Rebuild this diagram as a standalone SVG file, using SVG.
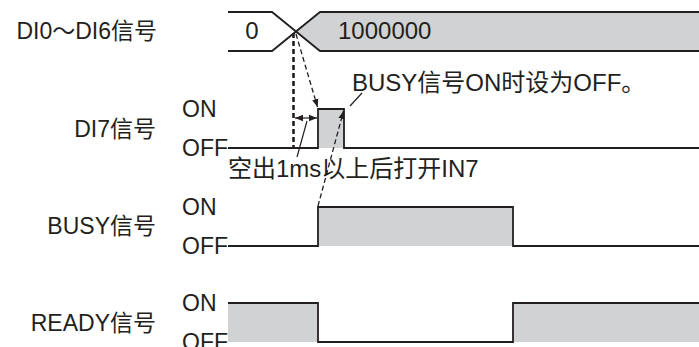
<svg xmlns="http://www.w3.org/2000/svg" width="699" height="347" viewBox="0 0 699 347">
<defs>
<style>
text{font-family:"Liberation Sans","Noto Sans CJK SC",sans-serif;font-size:23px;fill:#231f20}
.lbl{text-anchor:end}
.big{font-size:24px}
.sig{fill:none;stroke:#231f20;stroke-width:1.8}
.fill{fill:#d1d2d4;stroke:none}
.dash{fill:none;stroke:#231f20;stroke-width:1.3;stroke-dasharray:5 3}
.thick{fill:none;stroke:#231f20;stroke-width:2.6;stroke-dasharray:5 3}
.lead{fill:none;stroke:#231f20;stroke-width:1.2}
</style>
<marker id="ah" viewBox="0 0 10 10" refX="10" refY="5" markerWidth="8" markerHeight="8" markerUnits="userSpaceOnUse" orient="auto-start-reverse">
<path d="M0,1 L10,5 L0,9 Z" fill="#231f20"/>
</marker>
</defs>
<rect width="699" height="347" fill="#fff"/>

<g id="bus">
<path class="fill" d="M296,31.5 L320,12 L699,12 L699,51 L320,51 Z"/>
<path class="sig" d="M228,12 L272,12 L320,51 L699,51"/>
<path class="sig" d="M228,51 L272,51 L320,12 L699,12"/>
<text class="big" x="252" y="39" text-anchor="middle">0</text>
<text class="big" x="338" y="39">1000000</text>
<text class="lbl" x="157" y="39">DI0～DI6信号</text>
</g>

<g id="di7">
<rect class="fill" x="318" y="109" width="26" height="39"/>
<path class="sig" d="M228,148 L318,148 L318,109 L344,109 L344,148 L699,148"/>
<text class="lbl" x="156" y="137">DI7信号</text>
<text x="182" y="117">ON</text>
<text x="182" y="156">OFF</text>
</g>

<g id="busy">
<rect class="fill" x="318" y="207" width="195" height="39"/>
<path class="sig" d="M228,246 L318,246 L318,207 L513,207 L513,246 L699,246"/>
<text class="lbl" x="156" y="234">BUSY信号</text>
<text x="182" y="215">ON</text>
<text x="182" y="254">OFF</text>
</g>

<g id="ready">
<rect class="fill" x="228" y="303" width="90" height="39"/>
<rect class="fill" x="513" y="303" width="186" height="39"/>
<path class="sig" d="M228,303 L318,303 L318,342 L513,342 L513,303 L699,303"/>
<text class="lbl" x="156" y="331">READY信号</text>
<text x="182" y="311">ON</text>
<text x="182" y="350">OFF</text>
</g>

<g id="connectors">
<path class="thick" d="M293.5,33 L293.5,148"/>
<path class="dash" d="M296,34 L317.5,107" marker-end="url(#ah)"/>
<path class="dash" d="M318,206 L343.5,111" marker-end="url(#ah)"/>
<path class="lead" d="M295,118 L317,118" marker-start="url(#ah)" marker-end="url(#ah)"/>
<path class="lead" d="M297,157 L307,121"/>
<path class="lead" d="M350,106 L362,93"/>
</g>

<g id="notes">
<text class="big" x="352" y="91">BUSY信号ON时设为OFF。</text>
<text class="big" x="228" y="177">空出1ms以上后打开IN7</text>
</g>
</svg>
